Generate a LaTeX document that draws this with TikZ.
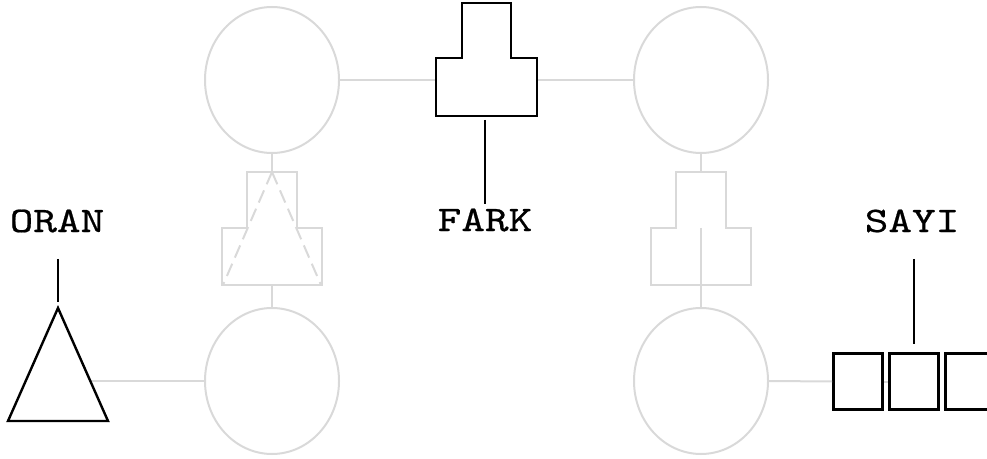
\documentclass[tikz,border=0pt]{standalone}
\usepackage{fontspec}
\newfontfamily\tagfont{lmmono10-regular.otf}[FakeStretch=1.25,FakeBold=0.6]
\usetikzlibrary{shapes.geometric}

\begin{document}
\begin{tikzpicture}[x=0.75pt,y=0.75pt,yscale=-1,xscale=1,
  faint/.style={color={rgb, 255:red, 217; green, 217; blue, 217 }, draw opacity=1, line width=1.5pt},
  ink/.style={color=black, line width=1.8pt},
  orb/.style={faint, draw, ellipse, minimum width=100.5pt, minimum height=109.5pt, inner sep=0pt},
  cell/.style={ink, draw, fill=white, rectangle, minimum width=37pt, minimum height=42pt, inner sep=0pt},
  tag/.style={font=\tagfont\fontsize{27}{30}\selectfont, inner sep=3pt}]
\useasboundingbox (0,0) rectangle (987,459);

%Shape: Ellipse
\node[orb] (ul) at (272,80) {};
%Shape: Ellipse
\node[orb] (ur) at (701,80) {};
%Shape: Ellipse
\node[orb] (ll) at (272,381) {};
%Shape: Ellipse
\node[orb] (lr) at (701,381) {};

% Text Node
\node[tag] (fark) at (485,220) {FARK};
% Text Node
\node[tag] (oran) at (57,221) {ORAN};
% Text Node
\node[tag] (sayi) at (912,221) {SAYI};

\coordinate (farkW) at (436,80);
\coordinate (farkE) at (537,80);
\coordinate (farkS) at (485,120);
\coordinate (leftT) at (272,172);
\coordinate (leftB) at (272,285);
\coordinate (rightT) at (701,172);
\coordinate (rightB) at (701,285);
\coordinate (oranR) at (91,381);
\coordinate (oranU) at (58,259);
\coordinate (oranD) at (58,302);
\coordinate (sayiU) at (914,259);
\coordinate (sayiD) at (914,344);

%Straight Lines
\draw[faint] (ul.east) -- (farkW);
\draw[faint] (farkE) -- (ur.west);
\draw[faint] (ul.south) -- (leftT);
\draw[faint] (leftB) -- (ll.north);
\draw[faint] (ur.south) -- (rightT);
\draw[faint] (rightB) -- (lr.north);
\draw[faint] (oranR) -- (ll.west);

%Shape: FARK block
\draw[ink] (436,58) -- (462,58) -- (462,3) -- (511,3) -- (511,58) -- (537,58) -- (537,116) -- (436,116) -- cycle;
\draw[ink] (farkS) -- (fark.north);

%Shape: left grey block
\draw[faint] (247,228) -- (247,172) -- (297,172) -- (297,228) -- (322,228) -- (322,285) -- (222,285) -- (222,228) -- cycle;
\draw[faint, dash pattern=on 10pt off 5pt] (leftT) -- (223,285);
\draw[faint, dash pattern=on 10pt off 5pt] (leftT) -- (321,285);

%Shape: right grey block
\draw[faint] (676,228) -- (676,172) -- (726,172) -- (726,228) -- (751,228) -- (751,285) -- (651,285) -- (651,228) -- cycle;
\draw[faint] (701,228) -- (rightB);

%Shape: Triangle
\draw[ink, fill=white] (58,308) -- (108,421) -- (8,421) -- cycle;
\draw[ink] (oranU) -- (oranD);

%Shape: Squares
\node[cell] (s1) at (858,381.5) {};
\node[cell] (s2) at (914,381.5) {};
\node[cell] (s3) at (970,381.5) {};
\draw[faint] (lr.east) -- (s1.west);
\draw[faint] (s1.east) -- (s2.west);
\draw[ink] (sayiU) -- (sayiD);

\end{tikzpicture}
\end{document}
